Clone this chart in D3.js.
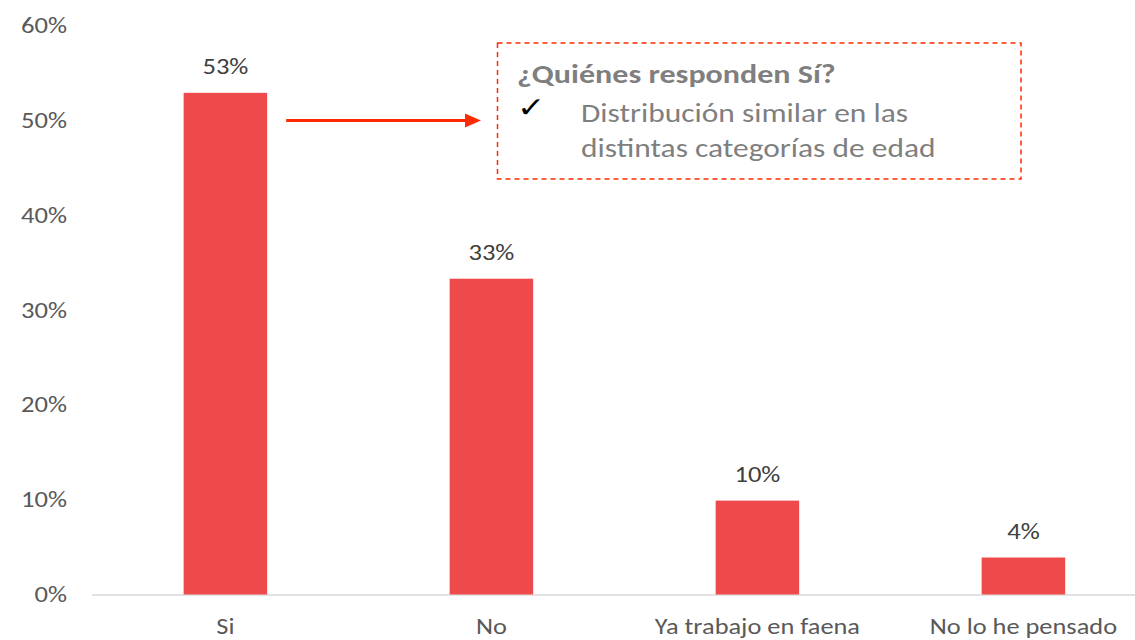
<!DOCTYPE html>
<html>
<head>
<meta charset="utf-8">
<script src="https://cdn.jsdelivr.net/npm/d3@7"></script>
<style>
    body { margin: 0; background: #fff; }
    svg { display: block; font-family: Carlito, Calibri, Lato, sans-serif; }
</style>
</head>
<body>
<svg width="1135" height="640"></svg>
<script>
var categories = ['Si', 'No', 'Ya trabajo en faena', 'No lo he pensado'];
var values = [0.529, 0.333, 0.099, 0.039];
var yTicks = [0, 0.1, 0.2, 0.3, 0.4, 0.5, 0.6];
var noteTitle = '¿Quiénes responden Sí?';
var noteLines = ['Distribución similar en las', 'distintas categorías de edad'];

var svg = d3.select('svg');
var barColor = '#ef4a4b';
var accent = '#ff2a00';
// the original slide text is a bit wider than the local font
var sx = 1.21;

function placeText(sel, fx, fy) {
    sel.attr('transform', function(d, i) {
        return 'translate(' + fx(d, i) + ',' + fy(d, i) + ') scale(' + sx + ',1)';
    });
}

var x = d3.scaleBand()
    .domain(categories)
    .range([92.4, 1156.4])
    .paddingInner(0.686)
    .paddingOuter(0.343);

var y = d3.scaleLinear()
    .domain([0, 0.6])
    .range([594.5, 25.5]);

var pct = d3.format('.0%');

// y labels (no gridlines in the original)
var yAxis = d3.axisLeft(y).tickValues(yTicks).tickFormat(pct).tickSize(0).tickPadding(0);
var gy = svg.append('g').attr('transform', 'translate(67,0)').call(yAxis);
gy.attr('font-family', null).attr('font-size', null);
gy.select('.domain').remove();
gy.selectAll('text')
    .attr('fill', '#595959')
    .attr('transform', 'scale(' + sx + ',1)')
    .style('font-size', '22px');

// baseline
svg.append('line')
    .attr('x1', 92).attr('x2', 1135)
    .attr('y1', y(0) + 0.5).attr('y2', y(0) + 0.5)
    .attr('stroke', '#d9d9d9')
    .attr('stroke-width', 1.5);

svg.selectAll('.bar')
    .data(values)
    .enter()
    .append('rect')
    .attr('class', 'bar')
    .attr('x', function(d, i) { return x(categories[i]); })
    .attr('width', x.bandwidth())
    .attr('y', function(d) { return y(d); })
    .attr('height', function(d) { return y(0) - y(d); })
    .attr('fill', barColor);

svg.selectAll('.val')
    .data(values)
    .enter()
    .append('text')
    .attr('class', 'val')
    .attr('text-anchor', 'middle')
    .attr('fill', '#404040')
    .style('font-size', '22px')
    .text(function(d) { return pct(d); })
    .call(placeText,
        function(d, i) { return x(categories[i]) + x.bandwidth() / 2; },
        function(d) { return y(d) - 19; });

svg.selectAll('.cat')
    .data(categories)
    .enter()
    .append('text')
    .attr('class', 'cat')
    .attr('text-anchor', 'middle')
    .attr('fill', '#595959')
    .style('font-size', '21.8px')
    .text(function(d) { return d; })
    .call(placeText,
        function(d) { return x(d) + x.bandwidth() / 2; },
        function() { return 634; });

// arrow from the Si bar to the note
var arrowY = 120.5;
svg.append('line')
    .attr('x1', x('Si') + x.bandwidth() + 19).attr('x2', 467)
    .attr('y1', arrowY).attr('y2', arrowY)
    .attr('stroke', accent)
    .attr('stroke-width', 3);
svg.append('path')
    .attr('d', 'M465,' + (arrowY - 7) + 'L481,' + arrowY + 'L465,' + (arrowY + 7) + 'Z')
    .attr('fill', accent);

// note box
svg.append('rect')
    .attr('x', 497.5).attr('y', 43)
    .attr('width', 523.5).attr('height', 136)
    .attr('fill', 'none')
    .attr('stroke', accent)
    .attr('stroke-width', 1.5)
    .attr('stroke-dasharray', '5,4');

svg.append('text')
    .attr('fill', '#7f7f7f')
    .style('font-size', '26.5px')
    .style('font-weight', 'bold')
    .text(noteTitle)
    .call(placeText, function() { return 517; }, function() { return 83; });

svg.append('text')
    .attr('fill', '#000')
    .style('font-size', '28px')
    .style('font-family', 'DejaVu Sans')
    .text('\u2713')
    .call(placeText, function() { return 517; }, function() { return 117; });

svg.selectAll('.note')
    .data(noteLines)
    .enter()
    .append('text')
    .attr('class', 'note')
    .attr('fill', '#7f7f7f')
    .style('font-size', '26px')
    .text(function(d) { return d; })
    .call(placeText,
        function() { return 581; },
        function(d, i) { return 121.7 + i * 35.5; });
</script>
</body>
</html>
